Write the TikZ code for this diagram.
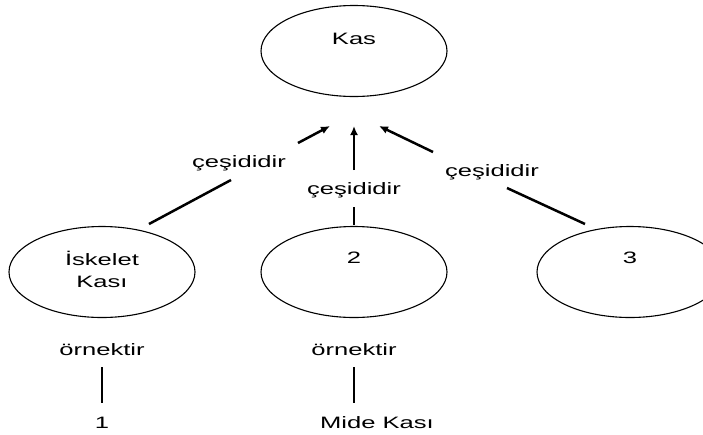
\documentclass[tikz,border=0pt]{standalone}
\usepackage{fontspec}
\usepackage{graphicx}
\setmainfont{Liberation Sans}
\usetikzlibrary{shapes.geometric,arrows.meta}
\newcommand\tx[1]{\scalebox{1.55}[1]{#1}}
\tikzset{
  oval/.style={draw, ellipse, line width=1.1pt, minimum width=186pt, minimum height=91pt, inner sep=0pt},
  lbl/.style={inner sep=0pt, font=\fontsize{16.5}{22}\selectfont, align=center},
  conn/.style={line width=2.5pt},
  arr/.style={conn, -{Latex[length=9pt,width=8pt]}},
  thin/.style={line width=1.1pt}
}
\begin{document}
\begin{tikzpicture}[x=1pt,y=-1pt]
\useasboundingbox (0,0) rectangle (703,434);
\clip (0,0) rectangle (703,434);
% ellipses
\node[oval] (kas) at (354,51) {};
\node[oval] (isk) at (102,272) {};
\node[oval] (iki) at (354,272) {};
\node[oval] (uc) at (630,272) {};
% texts inside
\node[lbl] (kast) at (354,39) {\tx{Kas}};
\node[lbl] (iskt) at (102,269) {\tx{İskelet}\\\tx{Kası}};
\node[lbl] (ikit) at (354,258) {\tx{2}};
\node[lbl] (uct) at (630,258) {\tx{3}};
% relation labels
\node[lbl] (c1) at (239,163) {\tx{çeşididir}};
\node[lbl] (c2) at (354,190) {\tx{çeşididir}};
\node[lbl] (c3) at (492,172) {\tx{çeşididir}};
\node[lbl] (o1) at (102,350) {\tx{örnektir}};
\node[lbl] (o2) at (354,350) {\tx{örnektir}};
\node[lbl] (e1) at (102,423) {\tx{1}};
\node[lbl] (e2) at (377,423) {\tx{Mide Kası}};
% connector end points
\coordinate (l1a) at (149,224); \coordinate (l1b) at (231,180);
\coordinate (r1a) at (298,143); \coordinate (r1b) at (330,126);
\coordinate (l2a) at (354,225); \coordinate (l2b) at (354,207);
\coordinate (r2a) at (354,170); \coordinate (r2b) at (354,126);
\coordinate (l3a) at (585,224); \coordinate (l3b) at (507,188);
\coordinate (r3a) at (433,152); \coordinate (r3b) at (379,126);
\coordinate (v1a) at (102,367); \coordinate (v1b) at (102,403);
\coordinate (v2a) at (354,367); \coordinate (v2b) at (354,403);
\draw[conn] (l1a) -- (l1b);
\draw[arr] (r1a) -- (r1b);
\draw[conn] (l2a) -- (l2b);
\draw[arr] (r2a) -- (r2b);
\draw[conn] (l3a) -- (l3b);
\draw[arr] (r3a) -- (r3b);
\draw[thin] (v1a) -- (v1b);
\draw[thin] (v2a) -- (v2b);
\end{tikzpicture}
\end{document}
